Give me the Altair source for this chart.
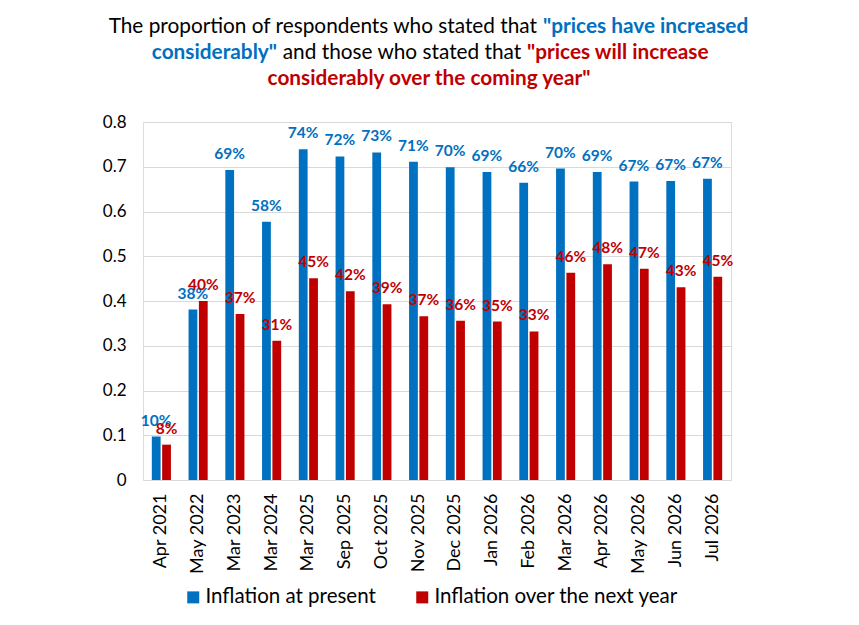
import altair as alt
import pandas as pd

categories = ["Apr 2021", "May 2022", "Mar 2023", "Mar 2024", "Mar 2025", "Sep 2025",
              "Oct 2025", "Nov 2025", "Dec 2025", "Jan 2026", "Feb 2026", "Mar 2026",
              "Apr 2026", "May 2026", "Jun 2026", "Jul 2026"]
present = [0.097, 0.381, 0.693, 0.577, 0.739, 0.723, 0.732, 0.711, 0.699, 0.688,
           0.664, 0.696, 0.688, 0.667, 0.668, 0.673]
next_year = [0.079, 0.400, 0.371, 0.311, 0.451, 0.422, 0.393, 0.366, 0.356, 0.354,
             0.332, 0.463, 0.482, 0.472, 0.431, 0.454]
series_names = ["Inflation at present", "Inflation over the next year"]
y_ticks = [0, 0.1, 0.2, 0.3, 0.4, 0.5, 0.6, 0.7, 0.8]

BLUE = "#0070C0"
RED = "#C00000"
FONT = "Lato"

rows = []
for c, p, n in zip(categories, present, next_year):
    rows.append({"cat": c, "series": series_names[0], "value": p})
    rows.append({"cat": c, "series": series_names[1], "value": n})
df = pd.DataFrame(rows)

color_scale = alt.Scale(domain=series_names, range=[BLUE, RED])
x_enc = alt.X("cat:N", sort=categories, title=None,
              scale=alt.Scale(paddingInner=0.48, paddingOuter=0.24),
              axis=alt.Axis(labelAngle=270, labelFontSize=18, labelFont=FONT,
                            labelColor="#000000", labelPadding=13, ticks=False,
                            domain=False, grid=False, labelBaseline="middle",
                            labelAlign="right"))
xo_enc = alt.XOffset("series:N", sort=series_names,
                     scale=alt.Scale(paddingInner=0.15))
y_enc = alt.Y("value:Q", title=None,
              scale=alt.Scale(domain=[0, 0.8], nice=False),
              axis=alt.Axis(values=y_ticks, format=".1~f", labelFontSize=17,
                            labelFont=FONT, labelColor="#000000", labelPadding=17,
                            ticks=False, domain=False, gridColor="#D9D9D9",
                            gridWidth=1))

base = alt.Chart(df)
bars = base.mark_bar().encode(
    x=x_enc, xOffset=xo_enc, y=y_enc,
    color=alt.Color("series:N", scale=color_scale, sort=series_names,
                    legend=alt.Legend(title=None, orient="none", legendX=40,
                                      legendY=465, direction="horizontal",
                                      symbolType="square", symbolSize=144,
                                      symbolStrokeWidth=0, labelFontSize=20.5,
                                      labelFont=FONT, labelColor="#000000",
                                      labelLimit=0, columnPadding=36,
                                      padding=0, symbolOffset=0,
                                      labelOffset=2)),
)
labels = base.mark_text(fontSize=15.5, font=FONT, fontWeight="bold", dy=-11,
                        baseline="alphabetic").encode(
    x=x_enc, xOffset=xo_enc, y=y_enc,
    text=alt.Text("value:Q", format=".0%"),
    color=alt.Color("series:N", scale=color_scale, sort=series_names, legend=None),
)

title_size = 20.8
def seg(text, x, y, color, bold, align):
    return alt.Chart(pd.DataFrame({"t": [text]})).mark_text(
        font=FONT, fontSize=title_size, fontWeight="bold" if bold else "normal",
        color=color, align=align, baseline="alphabetic").encode(
        text="t:N", x=alt.value(x), y=alt.value(y))

title_layers = [
    seg("The proportion of respondents who stated that", 394, -89, "#000000", False, "right"),
    seg("\"prices have increased", 400, -89, BLUE, True, "left"),
    seg("considerably\"", 134, -63, BLUE, True, "right"),
    seg("and those who stated that", 259, -63, "#000000", False, "center"),
    seg("\"prices will increase", 384, -63, RED, True, "left"),
    seg("considerably over the coming year\"", 286, -37, RED, True, "center"),
]

chart = alt.layer(bars, labels, *title_layers).properties(
    width=588, height=358,
    padding={"left": 135, "top": 114, "right": 120, "bottom": 137},
    autosize=alt.AutoSizeParams(type="none"),
).configure_view(stroke="#BFBFBF", strokeWidth=1.5).configure(background="#FFFFFF")

chart.save("out.html", embed_options={"renderer": "svg", "actions": False})
